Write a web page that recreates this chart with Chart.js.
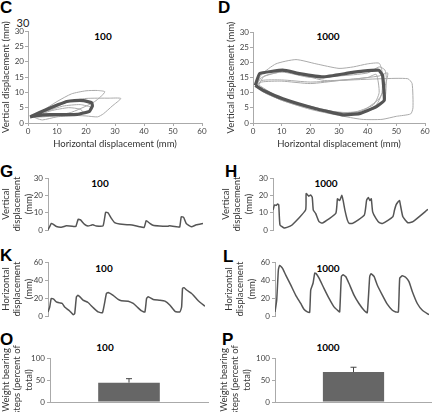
<!DOCTYPE html>
<html>
<head>
<meta charset="utf-8">
<script src="https://cdn.jsdelivr.net/npm/chart.js@4.4.0/dist/chart.umd.min.js"></script>
<style>
  body { margin: 0; width: 432px; height: 412px; background: #fff; position: relative; overflow: hidden; }
  canvas { position: absolute; }
  .lt { position: absolute; font: bold 17px "Liberation Sans", Arial, sans-serif; color: #000; line-height: 1; }
  .ttl { position: absolute; font: bold 10px Lato, sans-serif; color: #000; transform: translate(-50%, -50%); white-space: nowrap; }
</style>
</head>
<body>
<div class="lt" style="left:0;top:-1px">C</div>
<div class="lt" style="left:218px;top:-1px">D</div>
<div class="lt" style="left:0;top:163px">G</div>
<div class="lt" style="left:225px;top:163px">H</div>
<div class="lt" style="left:0;top:247px">K</div>
<div class="lt" style="left:223px;top:248px">L</div>
<div class="lt" style="left:0;top:331px">O</div>
<div class="lt" style="left:222px;top:331px">P</div>
<div class="ttl" style="left:23px;top:22px;font-weight:normal;font-size:11px;color:#222">30</div>
<div class="ttl" style="left:103px;top:36px">100</div>
<div class="ttl" style="left:328px;top:36px">1000</div>
<div class="ttl" style="left:100px;top:183px">100</div>
<div class="ttl" style="left:326px;top:183px">1000</div>
<div class="ttl" style="left:104px;top:268px">100</div>
<div class="ttl" style="left:328px;top:268px">1000</div>
<div class="ttl" style="left:105px;top:347px">100</div>
<div class="ttl" style="left:328px;top:347px">1000</div>
<script>
// ---- C: step trajectories at 100, [horizontal mm, vertical mm]
const c100Mean = [[0.7,2],[4,3.4],[7.6,4.9],[10.5,6],[13.4,7],[16,7.3],[19.1,7.3],[22,6.6],[22.2,5.5],[21.2,3.8],[17,2.8],[13.4,2.7],[7.6,2.7],[3,2.4],[0.7,2]];
const c100Steps = [
  [[1,2],[5,4],[10,7],[15,9.5],[20,10.5],[24,10.6],[26.5,10.2],[25,8.5],[23,7],[20,5.5],[15,3.5],[10,2.5],[5,2],[1,2]],
  [[2,2.2],[8,4.5],[14,7],[20,8],[28,8.1],[32,8],[29,5.5],[26,3],[24,2],[20,2.3],[15,2.5],[8,2.2],[2,2.2]],
  [[1,2.5],[7,4],[12,5.5],[18,6],[22,5],[20,3.5],[16,2.5],[10,2],[5,1],[3,1.5],[1,2.5]],
  [[2,2],[8,4],[14,5],[18,4.5],[19,3.5],[15,2.5],[8,2.8],[2,2]]
];
// ---- D: step trajectories at 1000
const d1000Mean = [[0.8,12.4],[2.3,16.3],[10.4,17.4],[16.2,16.3],[24.4,15.2],[33.6,16.5],[38.3,17.1],[43.9,17.4],[45.2,15.7],[45.8,7.5],[42.9,5.3],[37.1,3.1],[31.3,2.7],[22,4.7],[10.4,8],[3.5,10.8],[0.8,12.4]];
const d1000Steps = [
  [[1,12.5],[3,16],[8,19.5],[15,20.9],[22,19.5],[30,18],[35,18.5],[40,19.5],[44,19.7],[45,17],[45,10],[43,6],[38,3.5],[30,3],[20,5],[10,7.8],[3,11],[1,12.5]],
  [[1,12],[3,14],[10,14.2],[20,13.5],[30,14],[45,14.6],[54,14.6],[55.5,13],[55.8,5],[55,3],[50,2.2],[45,1.2],[38,1.2],[30,2.5],[20,4.5],[10,7.5],[3,10.5],[1,12]],
  [[1,12.2],[3,15],[10,16.8],[20,15],[30,15.5],[40,16.5],[44,18.5],[46,17.5],[46.5,15],[46,8],[43,5],[36,3],[28,3.2],[20,5],[10,7.5],[3,10.8],[1,12.2]],
  [[1,12],[3,13.5],[10,13.8],[20,13],[30,14],[40,15],[43,16],[44,10],[42,6],[35,3.5],[25,4],[15,6],[5,9.5],[1,12]],
  [[2,12.5],[4,15.5],[12,17],[25,14],[35,14.5],[44,15.5],[47,16.5],[46,12],[44,8],[38,4],[30,3.5],[20,5.5],[10,8],[2,12.5]]
];

// ---- G / H: vertical displacement over time
const timeG = [0,1.1,2.2,3.2,5.4,8.6,11.8,14,17.2,18,19.5,21,23.6,25.8,28,29,31.2,35.5,37.2,38.7,40.9,43,46.2,52.7,55,59,62,63.4,65.6,67.7,72,77.4,78.4,83.7,85,86,87.5,89.2,92.5,95.7,100];
const vertG = [0.2,2,3.8,3.4,2,1.6,2.4,2.3,2,2,6.2,5.8,3.2,2.3,2.8,3,2.3,2.4,10.2,9.9,6.7,4.2,3.4,3,2.8,1.9,1.5,5.4,3.9,2.7,2.3,2.2,2.5,1.8,1.8,7.6,7.3,3.8,1.9,3,3.8];
const timeH = [0,1,2,3,3.7,4.5,6.9,9,12.3,21,21.4,23.2,24.2,25.3,26,27.5,29.7,31.8,40.5,41.6,43,44.4,45.2,46.5,48,49.2,51.3,58.9,60.4,61.5,62.5,63.4,64.3,66.4,68.6,70.8,77.3,78.4,79.4,80.5,81.6,82.3,83.8,87,90.3,100];
const vertH = [11.5,14.5,14.2,15,14.5,3,1.3,1.5,2.9,11.5,21,19.5,20.2,19,11.5,9.6,4.8,4,9.6,18,17,20,17.2,11,5.7,3.8,3.8,8.6,17.2,18.8,17,18,10.5,6.7,4.2,3.8,7.6,11.5,14.5,16,17,14,7.6,4.2,4.8,11.9];

// ---- K / L: horizontal displacement over time
const timeK = [0,1.1,2.1,3.6,5.3,7.4,9.1,10.6,13.8,16,17,18.1,19.1,20.2,22.3,25.5,28.7,31.9,34.7,37.2,38.3,41.5,44.7,46.8,51.1,54.3,56.8,59.6,61.7,62.8,63.8,67,71.3,74.5,77.7,80.9,84,85.1,85.7,86.6,88.3,91.5,92.6,95.7,100];
const horizK = [4.5,10,19.5,18.7,15.7,14.6,13.9,10,5.6,1.5,2.6,21.3,23,21.5,17.6,15,9.4,4.5,3.7,25,26.2,23,18.4,16.9,16.5,13.9,10,5.6,4.5,19.5,21.3,18.4,17.6,16.5,12,5.2,4.5,10,30.7,31.5,28.9,25,23,16.9,10.9];
const timeL = [0,1.1,2.2,3,4.8,6.9,10.2,13.4,16.7,18.8,21,22.5,23.2,24.7,25.8,26.8,28.6,31.8,35.1,38.3,41.1,42,43.1,44.2,45.9,48,51.3,54.5,57.8,59.9,61.5,62.3,64.3,66.4,69.7,72.9,76.2,78.4,80.1,81,82.7,84.8,87,89.2,92.4,95.7,100];
const horizL = [4.5,17.6,51.4,56.2,53.2,45.7,34.5,23.2,13.9,7.5,4.5,4.1,28.9,36.4,47.6,47,42,30.7,19.5,10.1,5.6,4.5,43.9,45.7,43.9,36.4,23.2,13.9,6.4,3.7,43.9,47,43.9,34.5,23.2,13.1,6.4,4.5,4.5,42,44.6,43.1,38.2,27,13.9,6.4,1.5];

// ---- O / P: weight bearing steps (percent of total)
const wbLabels = [''];
const wb100 = [44];
const wb100Err = [9];
const wb1000 = [68];
const wb1000Err = [11];

Chart.defaults.font.family = 'Lato, "Liberation Sans", sans-serif';
Chart.defaults.color = '#444';

const AXIS = '#aaa';
const tickFont = { size: 8 };
const titleFont = { size: 9.5, lineHeight: 1.2 };

// box = plot area on the page (l,t,r,b) plus the room kept for the axes
function panel(box, config) {
  const cv = document.createElement('canvas');
  const w = box.r - box.l + box.yw + box.pr;
  const h = box.b - box.t + box.pt + box.xh;
  cv.width = w; cv.height = h;
  cv.style.left = (box.l - box.yw) + 'px';
  cv.style.top = (box.t - box.pt) + 'px';
  cv.style.width = w + 'px'; cv.style.height = h + 'px';
  document.body.appendChild(cv);
  const o = config.options;
  o.responsive = false;
  o.animation = false;
  o.devicePixelRatio = 1;
  o.layout = { padding: { top: box.pt, right: box.pr, left: 0, bottom: 0 } };
  o.plugins = Object.assign({ legend: { display: false }, tooltip: { enabled: false } }, o.plugins || {});
  o.scales.x.afterFit = s => { s.height = box.xh; s.paddingLeft = 0; s.paddingRight = 0; };
  o.scales.y.afterFit = s => { s.width = box.yw; s.paddingTop = 0; s.paddingBottom = 0; };
  return new Chart(cv, config);
}

const pts = arr => arr.map(p => ({ x: p[0], y: p[1] }));

function loopChart(box, mean, steps) {
  const datasets = steps.map(s => ({
    data: pts(s), showLine: true, borderColor: '#aaa', borderWidth: 1, pointRadius: 0, tension: 0.2, order: 1
  }));
  datasets.push({ data: pts(mean), showLine: true, borderColor: '#555', borderWidth: 3.2, pointRadius: 0, tension: 0.1, order: 0 });
  return panel(box, {
    type: 'scatter',
    data: { datasets },
    options: {
      scales: {
        x: {
          type: 'linear', min: 0, max: 60,
          ticks: { stepSize: 10, font: tickFont, padding: 1 },
          grid: { drawOnChartArea: false, tickLength: 3, color: AXIS },
          border: { color: AXIS },
          title: { display: true, text: 'Horizontal displacement (mm)', font: titleFont, color: '#333', padding: 0 }
        },
        y: {
          type: 'linear', min: 0, max: 30,
          ticks: { stepSize: 5, font: tickFont, padding: 1 },
          grid: { drawOnChartArea: false, tickLength: 3, color: AXIS },
          border: { color: AXIS },
          title: { display: true, text: 'Vertical displacement (mm)', font: titleFont, color: '#333', padding: 0 }
        }
      }
    }
  });
}

function traceChart(box, t, v, yMax, step, yTitle) {
  return panel(box, {
    type: 'line',
    data: { datasets: [{ data: t.map((x, i) => ({ x, y: v[i] })), borderColor: '#555', borderWidth: 1.5, pointRadius: 0, tension: 0.15 }] },
    options: {
      scales: {
        x: { type: 'linear', min: 0, max: 100, display: false },
        y: {
          min: 0, max: yMax,
          ticks: { stepSize: step, font: tickFont, padding: 2 },
          grid: { drawOnChartArea: false, tickLength: 3, color: AXIS },
          border: { color: AXIS },
          title: { display: true, text: yTitle, font: titleFont, color: '#333', padding: 0 }
        }
      }
    }
  });
}

const errorBars = {
  id: 'errorBars',
  afterDatasetsDraw(chart, args, opts) {
    const ctx = chart.ctx, ys = chart.scales.y;
    chart.getDatasetMeta(0).data.forEach((bar, i) => {
      const v = chart.data.datasets[0].data[i];
      const top = ys.getPixelForValue(v + opts.errors[i]);
      ctx.save();
      ctx.strokeStyle = '#444';
      ctx.lineWidth = 1;
      ctx.beginPath();
      ctx.moveTo(bar.x, bar.y); ctx.lineTo(bar.x, top);
      ctx.moveTo(bar.x - 3, top); ctx.lineTo(bar.x + 3, top);
      ctx.stroke();
      ctx.restore();
    });
  }
};

function barChart(box, vals, errs) {
  return panel(box, {
    type: 'bar',
    data: { labels: wbLabels, datasets: [{ data: vals, backgroundColor: '#666', barPercentage: 0.39, categoryPercentage: 1 }] },
    options: {
      plugins: { errorBars: { errors: errs } },
      scales: {
        x: { ticks: { display: false }, grid: { display: false }, border: { color: AXIS } },
        y: {
          min: 0, max: 100,
          ticks: { stepSize: 25, font: tickFont, padding: 2 },
          grid: { drawOnChartArea: false, tickLength: 3, color: AXIS },
          border: { color: AXIS },
          title: { display: true, text: ['Weight bearing', 'steps (percent of', 'total)'], font: titleFont, color: '#333', padding: 0 }
        }
      }
    },
    plugins: [errorBars]
  });
}

loopChart({ l: 28, t: 31, r: 202, b: 123, yw: 28, xh: 27, pt: 18, pr: 8 }, c100Mean, c100Steps);
loopChart({ l: 253, t: 32, r: 425, b: 123, yw: 28, xh: 27, pt: 18, pr: 7 }, d1000Mean, d1000Steps);

traceChart({ l: 48, t: 178, r: 203, b: 230, yw: 48, xh: 14, pt: 14, pr: 6 }, timeG, vertG, 30, 10, ['Vertical', 'displacement', '(mm)']);
traceChart({ l: 273, t: 178, r: 428, b: 230, yw: 53, xh: 14, pt: 14, pr: 4 }, timeH, vertH, 30, 10, ['Vertical', 'displacement', '(mm)']);
traceChart({ l: 48, t: 262, r: 205, b: 316, yw: 48, xh: 14, pt: 14, pr: 6 }, timeK, horizK, 60, 20, ['Horizontal', 'displacement', '(mm)']);
traceChart({ l: 275, t: 262, r: 429, b: 316, yw: 52, xh: 14, pt: 14, pr: 3 }, timeL, horizL, 60, 20, ['Horizontal', 'displacement', '(mm)']);

barChart({ l: 50, t: 358, r: 208, b: 402, yw: 50, xh: 26, pt: 26, pr: 4 }, wb100, wb100Err);
barChart({ l: 275, t: 358, r: 432, b: 402, yw: 57, xh: 26, pt: 26, pr: 0 }, wb1000, wb1000Err);
</script>
</body>
</html>
